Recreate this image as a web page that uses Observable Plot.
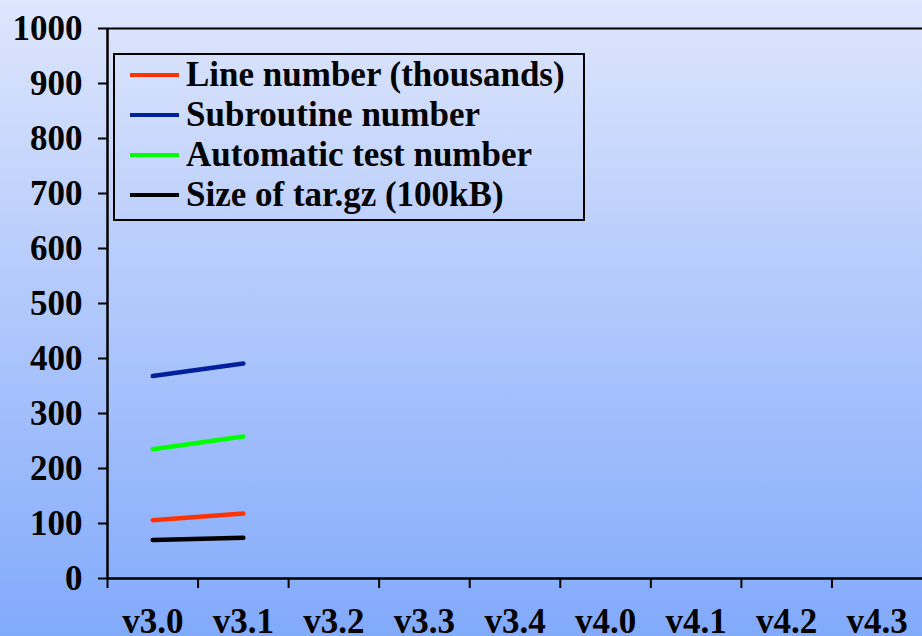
<!DOCTYPE html>
<html>
<head>
<meta charset="utf-8">
<script src="https://cdn.jsdelivr.net/npm/d3@7"></script>
<script src="https://cdn.jsdelivr.net/npm/@observablehq/plot@0.6"></script>
<style>
  html, body { margin: 0; padding: 0; }
  body { width: 922px; height: 636px; overflow: hidden;
         background: linear-gradient(to bottom, #dee6fd 0%, #b4cafc 45%, #82aafb 100%); }
  #wrap { position: relative; width: 922px; height: 636px; }
  #legend { position: absolute; left: 113px; top: 53px; width: 468px; height: 164px;
            border: 2px solid #000; font-family: "Liberation Serif", serif; font-weight: bold;
            font-size: 35px; color: #000; }
  .row { display: flex; align-items: center; height: 40px; line-height: 40px; white-space: nowrap; }
  .sw { width: 49px; height: 4px; margin-left: 15px; margin-right: 7px; flex: none; }
</style>
</head>
<body>
<div id="wrap"><div id="chart"></div><div id="legend"></div></div>
<script>
const versions = ["v3.0","v3.1","v3.2","v3.3","v3.4","v4.0","v4.1","v4.2","v4.3"];
const yTicks = [0,100,200,300,400,500,600,700,800,900,1000];
const seriesNames = ["Line number (thousands)","Subroutine number","Automatic test number","Size of tar.gz (100kB)"];
const seriesColors = ["#ff3300","#00209c","#00ff00","#000000"];
const lineNumber = [106, 118];
const subroutineNumber = [368, 391];
const testNumber = [235, 258];
const tarSize = [70, 74];

const seriesValues = [lineNumber, subroutineNumber, testNumber, tarSize];
const data = [];
seriesValues.forEach((vals, s) => vals.forEach((v, i) => data.push({version: versions[i], value: v, series: seriesNames[s]})));

const width = 922, height = 636, mL = 107, mR = 0;
const step = (width - mL - mR) / versions.length;

const plot = Plot.plot({
  width, height,
  marginLeft: mL, marginRight: mR, marginTop: 28, marginBottom: 58,
  style: {background: "transparent", fontFamily: "Liberation Serif, serif", fontSize: "35px", fontWeight: "bold", color: "#000", overflow: "visible"},
  x: {type: "point", domain: versions, padding: 0.5, round: false, axis: null, label: null},
  y: {domain: [0, 1000], axis: null, label: null},
  color: {domain: seriesNames, range: seriesColors},
  marks: [
    Plot.ruleY([0], {stroke: "#000", strokeWidth: 2.5}),
    Plot.ruleY([1000], {stroke: "#000", strokeWidth: 2}),
    Plot.ruleX([versions[0]], {y1: 0, y2: 1000, dx: -step/2, stroke: "#000", strokeWidth: 2.5}),
    Plot.axisX({tickSize: 10, dx: -step/2, text: null, label: null, strokeWidth: 2, stroke: "#000"}),
    Plot.axisX({tickSize: 0, tickPadding: 30, label: null, fontSize: 35, fontWeight: "bold", fill: "#000"}),
    Plot.axisY({ticks: yTicks, tickSize: 9, tickPadding: 16, label: null, strokeWidth: 2, stroke: "#000", fontSize: 35, fill: "#000", tickFormat: d => String(d)}),
    Plot.line(data, {x: "version", y: "value", z: "series", stroke: "series", strokeWidth: 4.5})
  ]
});
document.getElementById("chart").appendChild(plot);

const legend = document.getElementById("legend");
seriesNames.forEach((name, i) => {
  const row = document.createElement("div");
  row.className = "row";
  const sw = document.createElement("span");
  sw.className = "sw";
  sw.style.background = seriesColors[i];
  const t = document.createElement("span");
  t.textContent = name;
  row.appendChild(sw); row.appendChild(t);
  legend.appendChild(row);
});
</script>
</body>
</html>
